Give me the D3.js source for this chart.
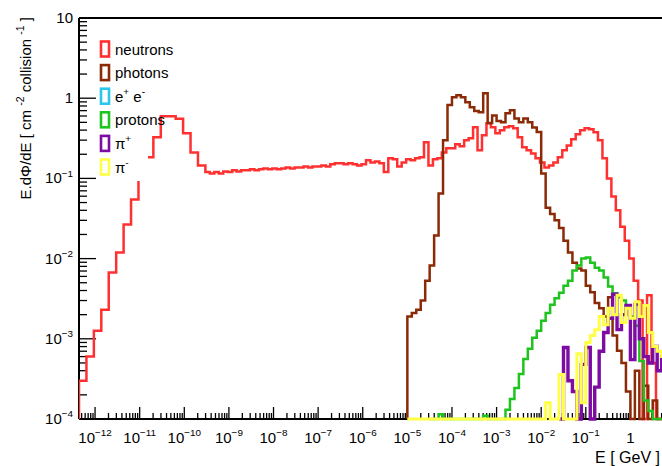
<!DOCTYPE html>
<html>
<head>
<meta charset="utf-8">
<script src="https://cdn.jsdelivr.net/npm/d3@7"></script>
<style>
  body { margin: 0; background: #fff; }
  svg { display: block; font-family: "Liberation Sans", Arial, Helvetica, sans-serif; }
</style>
</head>
<body>
<svg id="chart" width="662" height="466"></svg>
<script>
// bins are given as log10(E / GeV) of the first low edge + a bin width in decades
var neutronLowStart = -12.36
var neutronLowStep = 1 / 6
var neutronLow = [3.0e-4, 6.0e-4, 1.26e-3, 2.3e-3, 6.7e-3, 1.19e-2, 2.66e-2, 5.46e-2, 0.126,
  0.183, 0.325, 0.596, 0.596, 0.554, 0.365, 0.211, 0.145]

var neutronHighStart = -9.527
var fineStep = 0.1
var neutronHigh = [
  0.12, 0.115, 0.12, 0.115, 0.122, 0.12, 0.126, 0.122, 0.126, 0.126,
  0.13, 0.126, 0.13, 0.133, 0.13, 0.133, 0.13, 0.133, 0.137, 0.133,
  0.137, 0.137, 0.141, 0.137, 0.141, 0.141, 0.145, 0.141, 0.15, 0.154,
  0.154, 0.15, 0.154, 0.15, 0.145, 0.15, 0.168, 0.158, 0.163, 0.154,
  0.12, 0.178, 0.173, 0.141, 0.158, 0.173, 0.168, 0.178, 0.183, 0.282,
  0.145, 0.173, 0.178, 0.211, 0.237, 0.237, 0.266, 0.251, 0.299, 0.316,
  0.434, 0.224, 0.345, 0.487, 0.434, 0.365, 0.398, 0.434, 0.447, 0.422,
  0.325, 0.244, 0.224, 0.205, 0.178, 0.158, 0.137, 0.145, 0.158, 0.183,
  0.224, 0.258, 0.307, 0.355, 0.398, 0.422, 0.41, 0.376, 0.299, 0.178,
  0.1, 0.0596, 0.04, 0.025, 0.0167, 0.01, 0.0053, 0.003, 0, 0.0035,
  0.0005, 0, 0]

var photonStart = -5
var photons = [
  0.0019, 0.0021, 0.0023, 0.003, 0.0053, 0.0082, 0.0194, 0.065, 0.3, 0.82,
  1.03, 1.09, 1.03, 0.89, 0.77, 0.69, 0.67, 1.15, 0.49, 0.61,
  0.52, 0.5, 0.65, 0.71, 0.56, 0.5, 0.56, 0.5, 0.43, 0.38,
  0.115, 0.043, 0.036, 0.03, 0.024, 0.0167, 0.0119, 0.0089, 0.0075, 0.0071,
  0.0046, 0.0038, 0.0028, 0.0024, 0.0019, 0.0033, 0.0011, 7.1e-4, 5.0e-4, 2.2e-4,
  0, 4.0e-4, 0, 2.6e-4, 0, 1.7e-4, 0]

var electronStart = -5
var electrons = []

var protonStart = -4.5
var protons = [
  0, 0, 1.15e-4, 0, 0, 0, 0, 0, 0, 0,
  0, 0, 1.1e-4, 0, 0, 0, 0, 1.3e-4, 1.78e-4, 2.44e-4,
  3.65e-4, 5.6e-4, 7.5e-4, 1.03e-3, 1.26e-3, 1.68e-3, 2.1e-3, 2.66e-3, 3.2e-3, 3.76e-3,
  4.6e-3, 5.3e-3, 7.1e-3, 8.2e-3, 0.01, 0.0103, 0.0089, 0.0077, 0.0071, 0.0058,
  0.0045, 0.0037, 0.0033, 0.003, 0.0026, 0.0019, 0.00145, 5.3e-4, 1.7e-4, 1.26e-4,
  0, 0]

var piPlusStart = -1.6
var piPlus = [
  0, 7.8e-4, 3.0e-4, 2.2e-4, 0, 4.8e-4, 7.8e-4, 0, 2.5e-4, 7.0e-4,
  1.2e-3, 1.8e-3, 3.6e-3, 1.3e-3, 2.0e-3, 2.6e-3, 5.5e-4, 2.7e-3, 1.0e-3, 6.0e-4,
  5.0e-4, 8.0e-4, 4.0e-4, 6.0e-4]

var piMinusStart = -5
var piMinus = [
  0, 0, 0, 0, 0, 0, 0, 0, 0, 0,
  0, 0, 0, 0, 0, 0, 0, 0, 0, 0,
  0, 0, 0, 0, 0, 0, 0, 0, 0, 0,
  0, 1.6e-4, 0, 0, 3.6e-4, 0, 0, 0, 6.5e-4, 1.6e-4,
  9.0e-4, 1.1e-3, 1.3e-3, 1.9e-3, 1.5e-3, 2.4e-3, 2.0e-3, 3.5e-3, 1.6e-3, 2.4e-3,
  1.8e-3, 2.9e-3, 1.9e-3, 2.6e-3, 1.2e-3, 8.0e-4, 7.0e-4, 6.0e-4]

var xDecades = [-12, -11, -10, -9, -8, -7, -6, -5, -4, -3, -2, -1, 0]
var yDecades = [1, 0, -1, -2, -3, -4]
var legendNames = ["neutrons", "photons", "e+e-", "protons", "pi+", "pi-"]
var legendColors = ["#ff3030", "#8b2a06", "#2bc6ec", "#1ec41e", "#7d0ca3", "#ffff46"]

var plotLeft = 79, plotRight = 667, plotTop = 18, plotBottom = 419

var svg = d3.select("#chart")

var x = d3.scaleLog().domain([Math.pow(10, -12.36), Math.pow(10, 0.82)]).range([plotLeft, plotRight])
var y = d3.scaleLog().domain([1e-4, 10]).range([plotBottom, plotTop]).clamp(true)

function yValue(v) {
  return v > 0 ? y(v) : plotBottom
}

// one outline for a histogram that may be made of several binnings in a row
function histPath(parts) {
  var pts = []
  parts.forEach(function (p) {
    var start = p[0], step = p[1], values = p[2]
    values.forEach(function (v, i) {
      var x0 = x(Math.pow(10, start + i * step))
      var x1 = x(Math.pow(10, start + (i + 1) * step))
      pts.push([x0, yValue(v)], [x1, yValue(v)])
    })
  })
  if (!pts.length) return null
  pts.unshift([pts[0][0], plotBottom])
  pts.push([pts[pts.length - 1][0], plotBottom])
  return d3.line()(pts)
}

function supText(sel, base, exp, size) {
  sel.append("tspan").text(base)
  if (exp) {
    sel.append("tspan").attr("dy", -size * 0.45).attr("font-size", size * 0.66).text(exp)
  }
  return sel
}

// frame + axes
svg.append("line").attr("x1", plotLeft).attr("x2", 662).attr("y1", plotTop).attr("y2", plotTop)
  .attr("stroke", "#000").attr("stroke-width", 2)
svg.append("line").attr("x1", plotLeft).attr("x2", plotLeft).attr("y1", plotTop).attr("y2", plotBottom)
  .attr("stroke", "#000").attr("stroke-width", 2)
svg.append("line").attr("x1", plotLeft).attr("x2", 662).attr("y1", plotBottom).attr("y2", plotBottom)
  .attr("stroke", "#000").attr("stroke-width", 2)

var ticks = svg.append("g").attr("stroke", "#000").attr("stroke-width", 1.3)

for (var d = -13; d <= 0; d++) {
  for (var k = 2; k <= 9; k++) {
    var v = k * Math.pow(10, d)
    if (v < x.domain()[0] || x(v) > 662) continue
    ticks.append("line").attr("x1", x(v)).attr("x2", x(v)).attr("y1", plotBottom).attr("y2", plotBottom - 6)
  }
}
xDecades.forEach(function (d) {
  var xp = x(Math.pow(10, d))
  ticks.append("line").attr("x1", xp).attr("x2", xp).attr("y1", plotBottom).attr("y2", plotBottom - 12)
  var t = svg.append("text").attr("x", xp).attr("y", 443).attr("text-anchor", "middle")
    .attr("font-size", 15).attr("fill", "#000")
  if (d === 0) supText(t, "1", null, 15)
  else supText(t, "10", "\u2212" + (-d), 15)
})

for (var d = -4; d <= 0; d++) {
  for (var k = 2; k <= 9; k++) {
    var yp = y(k * Math.pow(10, d))
    ticks.append("line").attr("x1", plotLeft).attr("x2", plotLeft + 8).attr("y1", yp).attr("y2", yp)
  }
}
yDecades.forEach(function (d) {
  var yp = y(Math.pow(10, d))
  ticks.append("line").attr("x1", plotLeft).attr("x2", plotLeft + 17).attr("y1", yp).attr("y2", yp)
  var t = svg.append("text").attr("x", 73).attr("y", yp + 5).attr("text-anchor", "end")
    .attr("font-size", 15).attr("fill", "#000")
  if (d === 0) supText(t, "1", null, 15)
  else if (d === 1) supText(t, "10", null, 15)
  else supText(t, "10", "\u2212" + (-d), 15)
})

// axis titles
svg.append("text").attr("x", 660).attr("y", 463).attr("text-anchor", "end")
  .attr("font-size", 16).text("E [ GeV ]")

var yt = svg.append("text").attr("transform", "translate(31,17) rotate(-90)")
  .attr("text-anchor", "end").attr("font-size", 15)
yt.append("tspan").text("E.d\u03a6/dE [ cm ")
yt.append("tspan").attr("dy", -7).attr("font-size", 10.5).text("-2")
yt.append("tspan").attr("dy", 7).text(" collision ")
yt.append("tspan").attr("dy", -7).attr("font-size", 10.5).text("-1")
yt.append("tspan").attr("dy", 7).text(" ]")

// histograms
var series = [
  { parts: [[neutronLowStart, neutronLowStep, neutronLow], [neutronHighStart, fineStep, neutronHigh]], width: 2.5 },
  { parts: [[photonStart, fineStep, photons]], width: 2.5 },
  { parts: [[electronStart, fineStep, electrons]], width: 2.5 },
  { parts: [[protonStart, fineStep, protons]], width: 2.5 },
  { parts: [[piPlusStart, fineStep, piPlus]], width: 3.4 },
  { parts: [[piMinusStart, fineStep, piMinus]], width: 3 }
]

svg.append("clipPath").attr("id", "plotClip").append("rect")
  .attr("x", plotLeft).attr("y", plotTop).attr("width", 662 - plotLeft).attr("height", plotBottom - plotTop + 3)

var curves = svg.append("g").attr("clip-path", "url(#plotClip)")
series.forEach(function (s, i) {
  var d = histPath(s.parts)
  if (!d) return
  curves.append("path")
    .attr("d", d)
    .attr("fill", "none")
    .attr("stroke", legendColors[i])
    .attr("stroke-width", s.width)
    .attr("stroke-linejoin", "miter")
})

// legend (white box hides what is under it)
var legend = svg.append("g")
legend.append("rect").attr("x", 97).attr("y", 33).attr("width", 51).attr("height", 148).attr("fill", "#fff")

legendNames.forEach(function (name, i) {
  var cy = 49 + i * 23.6
  legend.append("rect").attr("x", 101).attr("y", cy - 7.5).attr("width", 8).attr("height", 15)
    .attr("fill", "#fff").attr("stroke", legendColors[i]).attr("stroke-width", 2.6)
  var t = legend.append("text").attr("x", 115).attr("y", cy + 5.5).attr("font-size", 15)
  if (name === "e+e-") {
    supText(t, "e", "+", 15)
    t.append("tspan").attr("dy", 15 * 0.45).text(" e")
    t.append("tspan").attr("dy", -15 * 0.45).attr("font-size", 10).text("-")
  } else if (name === "pi+") {
    supText(t, "\u03c0", "+", 15)
  } else if (name === "pi-") {
    supText(t, "\u03c0", "-", 15)
  } else {
    t.text(name)
  }
})
</script>
</body>
</html>
